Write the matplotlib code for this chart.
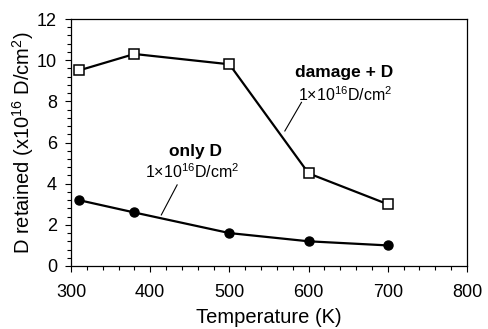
import matplotlib
matplotlib.use("Agg")
import matplotlib.pyplot as plt
from matplotlib.ticker import MultipleLocator

plt.rcParams['font.family'] = ['Liberation Sans', 'DejaVu Sans']
plt.rcParams['mathtext.fontset'] = 'custom'
plt.rcParams['mathtext.rm'] = 'Liberation Sans'
plt.rcParams['mathtext.it'] = 'Liberation Sans:italic'
plt.rcParams['mathtext.bf'] = 'Liberation Sans:bold'

temperature = [310, 380, 500, 600, 700]
damage_plus_d = [9.5, 10.3, 9.8, 4.5, 3.0]
only_d = [3.2, 2.6, 1.6, 1.2, 1.0]

fig = plt.figure(figsize=(4.88, 3.29), dpi=100)
ax = fig.add_axes([71 / 488, 1 - 266 / 329, (467 - 71) / 488, (266 - 19) / 329])

ax.plot(temperature, damage_plus_d, color='black', lw=1.6, marker='s',
        markersize=6.5, markerfacecolor='white', markeredgecolor='black',
        markeredgewidth=1.1, zorder=3)
ax.plot(temperature, only_d, color='black', lw=1.6, marker='o',
        markersize=6.5, markerfacecolor='black', markeredgecolor='black', zorder=3)

ax.set_xlim(300, 800)
ax.set_ylim(0, 12)
ax.xaxis.set_major_locator(MultipleLocator(100))
ax.xaxis.set_minor_locator(MultipleLocator(20))
ax.yaxis.set_major_locator(MultipleLocator(2))
ax.yaxis.set_minor_locator(MultipleLocator(0.4))
ax.tick_params(which='major', direction='out', length=4, width=0.8,
               labelsize=13, top=False, right=False)
ax.tick_params(axis='x', which='major', pad=9)
ax.tick_params(axis='y', which='major', pad=6)
ax.tick_params(which='minor', direction='out', length=3, width=0.8,
               top=False, right=False)
for s in ax.spines.values():
    s.set_linewidth(0.9)

ax.set_xlabel('Temperature (K)', fontsize=14.5, labelpad=5)
ax.set_ylabel('D retained (x10$^{16}$ D/cm$^2$)', fontsize=14.5, labelpad=1)

# labels for each curve
ax.text(645, 9.17, 'damage + D', fontsize=12.5, fontweight='bold',
        ha='center', va='baseline')
ax.text(646, 8.0, r'1$\times$10$^{16}$D/cm$^2$', fontsize=11.5,
        ha='center', va='baseline')
ax.plot([591, 570], [7.95, 6.56], color='black', lw=0.8)

ax.text(457, 5.36, 'only D', fontsize=12.5, fontweight='bold',
        ha='center', va='baseline')
ax.text(453, 4.26, r'1$\times$10$^{16}$D/cm$^2$', fontsize=11.5,
        ha='center', va='baseline')
ax.plot([434, 414], [3.94, 2.48], color='black', lw=0.8)

fig.savefig('out.png', dpi=100)
